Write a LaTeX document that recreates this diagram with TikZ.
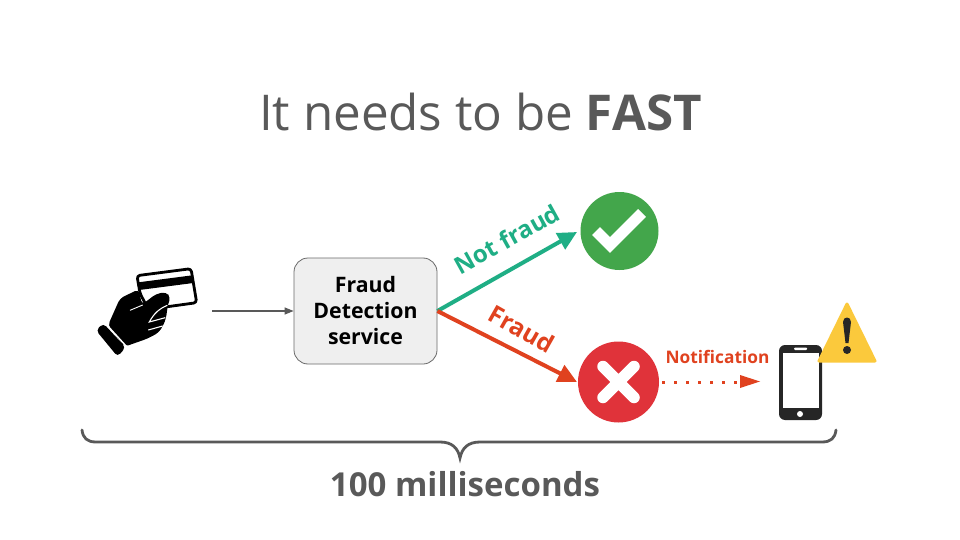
\documentclass[tikz,border=0pt]{standalone}
\usepackage{fontspec}
\setmainfont{Open Sans}
\usetikzlibrary{arrows.meta}
\definecolor{ink}{HTML}{595959}
\definecolor{okgreen}{HTML}{1FAE85}
\definecolor{badred}{HTML}{E0421F}
\definecolor{circgreen}{HTML}{43A64B}
\definecolor{circred}{HTML}{E0333A}
\definecolor{warn}{HTML}{FBC93C}
\definecolor{boxfill}{HTML}{EFEFEF}
\tikzset{
  px/.style={x=1pt,y=-1pt},
  servicebox/.style={draw=ink!90,fill=boxfill,rounded corners=14pt,line width=.8pt,minimum width=143pt,minimum height=106pt,align=center,inner sep=0pt,font=\fontsize{21.3}{26}\selectfont\bfseries,text=black},
  okarrow/.style={draw=okgreen,line width=4pt,-{Triangle[length=19pt,width=18pt]}},
  badarrow/.style={draw=badred,line width=4pt,-{Triangle[length=19pt,width=18pt]}},
  statuscircle/.style={circle,minimum size=78pt,inner sep=0pt,draw=none}
}
\begin{document}
\begin{tikzpicture}[px]
\useasboundingbox (0,0) rectangle (960,540);
\fill[white] (0,0) rectangle (960,540);
\node[text=ink,font=\fontsize{49.3}{58}\selectfont] (title) at (480.5,112) {It needs to be \textbf{FAST}};

% card and hand
\begin{scope}[shift={(80,250)},x=.3333pt,y=-.3333pt]
  \draw[black,line width=2.8pt,line join=round,rounded corners=3pt] (171,77) -- (333,56) -- (350,158) -- (205,178) -- (180,130) -- cycle;
  \fill[black] (175,97) -- (337,76) -- (340,99) -- (178,120) -- cycle;
  \fill[black,rounded corners=4pt] (84,226) -- (120,145) -- (176,118) -- (186,164) -- (228,132) -- (258,126) -- (272,142) -- (264,162) -- (258,205) -- (250,226) -- (236,248) -- (202,266) -- (134,290) -- cycle;
  \draw[white,line width=.9pt] (150,181) -- (188,165);
  \draw[white,line width=1.4pt] (78,222) -- (140,290);
  \draw[white,line width=1.1pt] (262,166) .. controls (238,176) and (222,190) .. (208,216) -- (256,203);
  \draw[white,line width=1.1pt] (205,240) -- (248,228);
\end{scope}
\begin{scope}[shift={(80,250)},x=.3333pt,y=-.3333pt]
  \fill[black,rounded corners=4pt] (48,241) -- (70,220) -- (137,292) -- (113,320) -- cycle;
\end{scope}
\coordinate (handout) at (212,311);

\node[servicebox] (service) at (365.5,311) {Fraud\\Detection\\service};
\node[statuscircle,fill=circgreen] (ok) at (619.5,231) {};
\node[statuscircle,fill=circred,minimum size=81pt] (bad) at (618.5,382) {};
\coordinate (okin) at (577,232);
\coordinate (badin) at (577,382);

\draw[ink,line width=1.2pt,-{Triangle[length=9pt,width=7pt]}] (handout) -- (service.west);
\draw[okarrow] (service.east) -- (okin);
\draw[badarrow] (service.east) -- (badin);
\draw[badred,line width=3pt,dash pattern=on 3pt off 9pt] (bad.east) ++(3,0) -- ++(82,0);
\fill[badred] (740,375) -- (760,381.5) -- (740,388) -- cycle;

% check and cross marks
\draw[white,line width=11pt,line join=miter] (596,231) -- (610,245) -- (642,213);
\draw[white,line width=11.5pt,line cap=round,rounded corners=1pt] (603,366.5) -- (634,397.5) (634,366.5) -- (603,397.5);

\node[text=okgreen,font=\fontsize{24}{30}\selectfont\bfseries,rotate=29] (nf) at (507,239) {Not fraud};
\node[text=badred,font=\fontsize{24.5}{30}\selectfont\bfseries,rotate=-29.5] (fr) at (522,329) {Fraud};
\node[text=badred,font=\fontsize{17.3}{20}\selectfont\bfseries] (notif) at (717.5,357) {Notification};

% phone
\fill[black!85,rounded corners=6pt] (779,345) rectangle (822,420);
\fill[white] (782.5,352.5) rectangle (818.5,407.5);
\fill[white,rounded corners=1pt] (794,347.5) rectangle (807,350);
\fill[white] (800,414) circle (3pt);

% warning
\fill[warn,draw=warn,line width=3pt,line join=round] (847,304) -- (875,361) -- (819,361) -- cycle;
\fill[black!85] (843,322) .. controls (843,316) and (851,316) .. (851,322) -- (848.5,343) -- (845.5,343) -- cycle;
\fill[black!85] (847,350) circle (4pt);

% brace
\draw[ink,line width=2.8pt,line cap=round] (82,430) .. controls (83,438) and (87,442) .. (96,442) -- (440,442) .. controls (452,442) and (458,448) .. (460,458) .. controls (462,448) and (468,442) .. (480,442) -- (822,442) .. controls (831,442) and (835,438) .. (836,430);
\node[text=ink,font=\fontsize{33}{38}\selectfont\bfseries] (time) at (465,484) {100 milliseconds};
\end{tikzpicture}
\end{document}
